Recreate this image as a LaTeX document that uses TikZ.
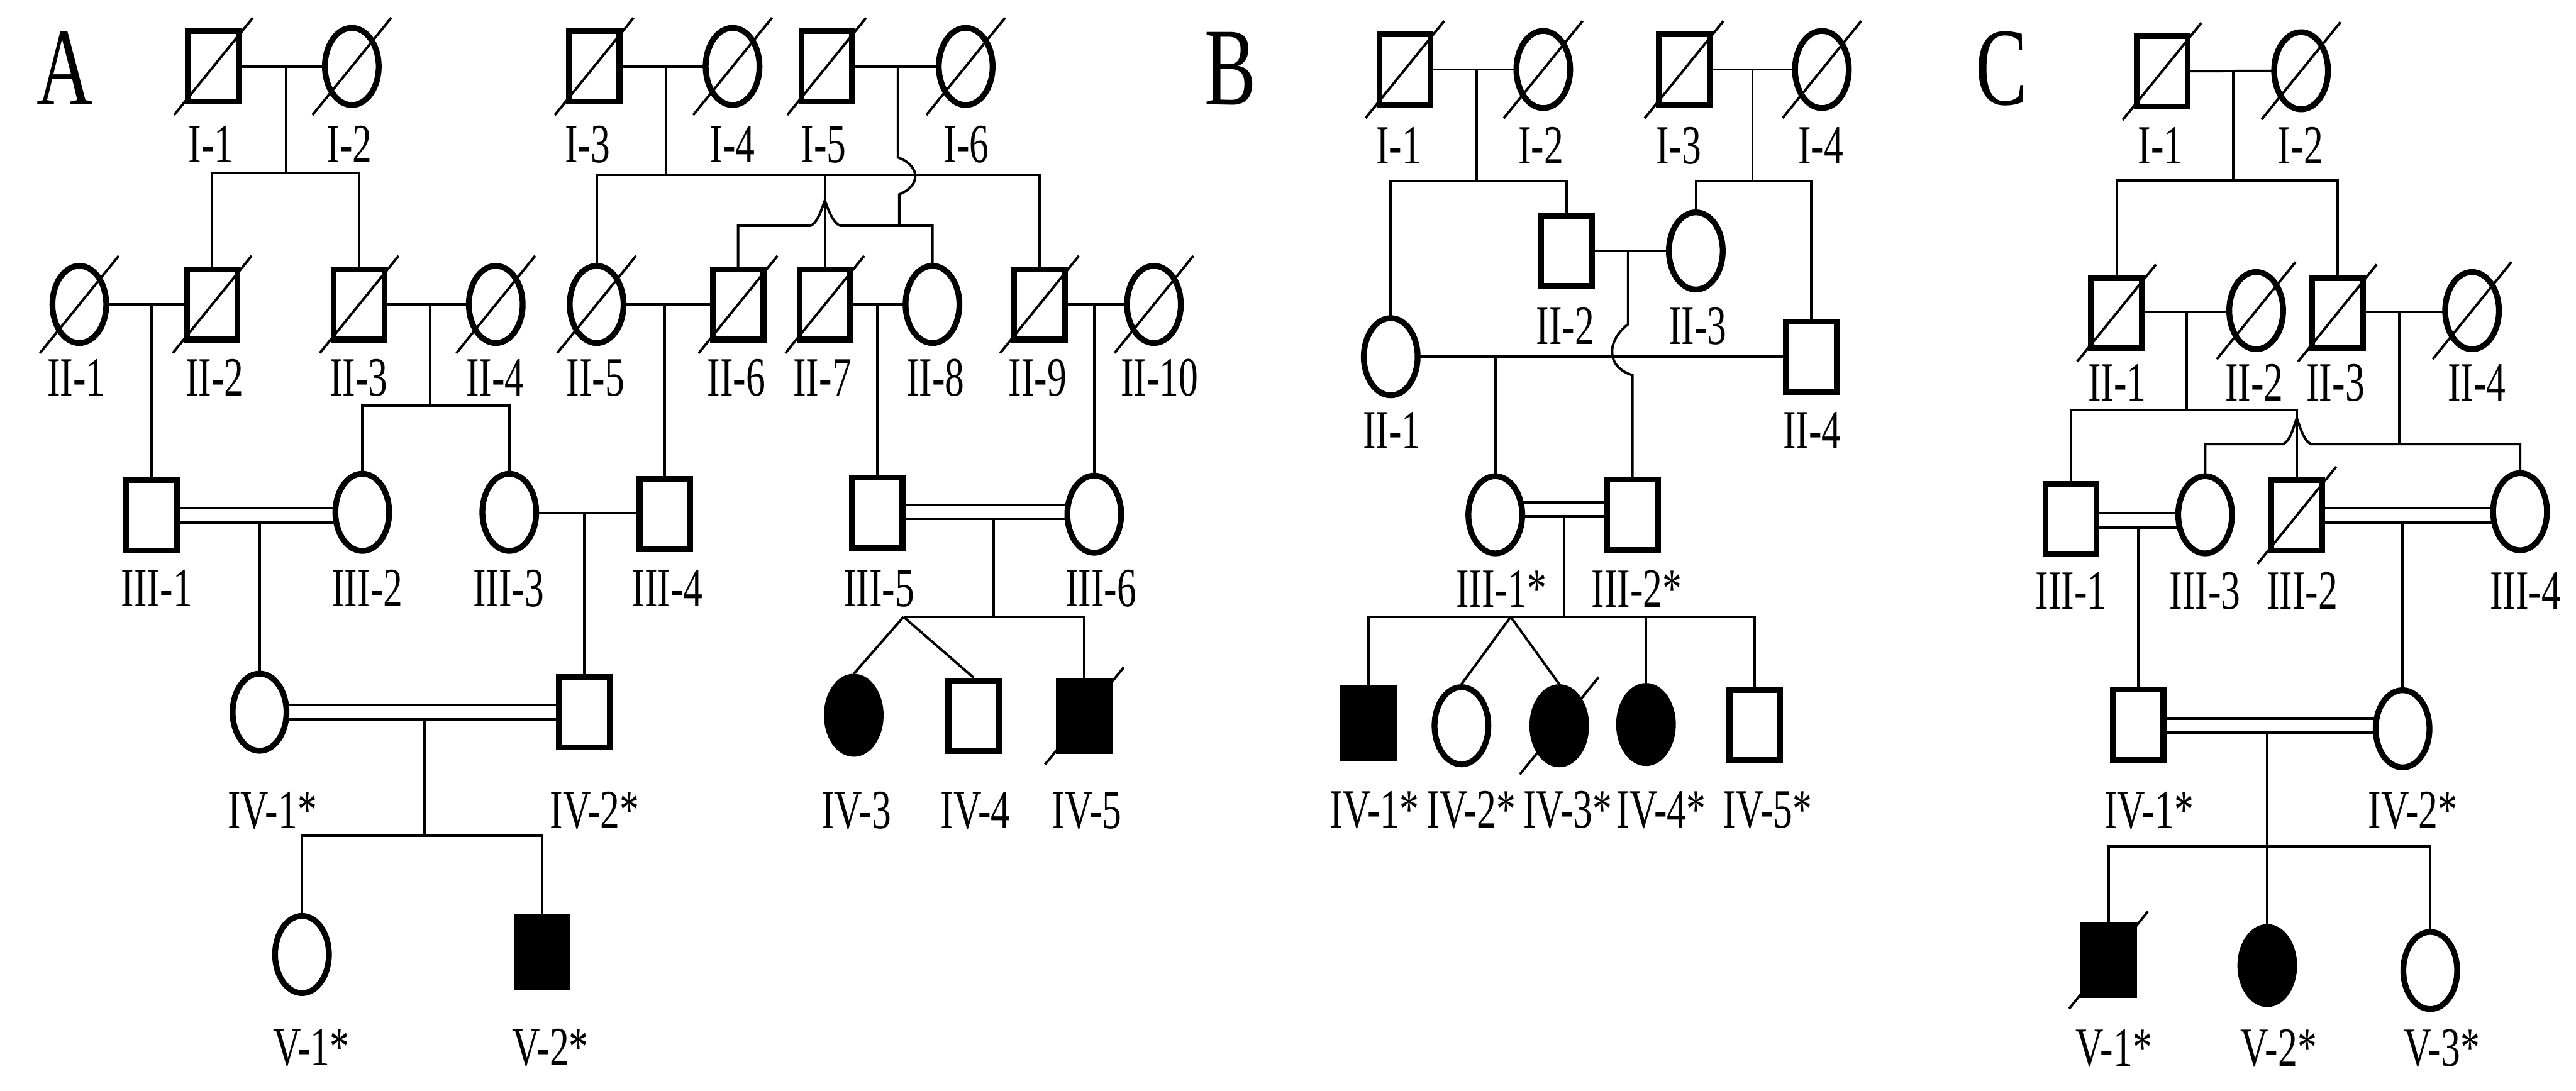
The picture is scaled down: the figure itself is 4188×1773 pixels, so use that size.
\documentclass[tikz,border=0pt]{standalone}
\usepackage{fontspec}
\setmainfont{Liberation Serif}[FakeStretch=0.7]
\usetikzlibrary{shapes.geometric,calc}
\pgfdeclarelayer{bg}
\pgfsetlayers{bg,main}
\tikzset{
  ml/.style={rectangle,draw,fill=white,minimum width=8.25pt,minimum height=11.45pt,inner sep=0pt},
  fm/.style={ellipse,draw,fill=white,minimum width=8.75pt,minimum height=12.55pt,inner sep=0pt},
  aff/.style={fill=black},
  lab/.style={anchor=base,inner sep=0pt,font=\fontsize{9pt}{9pt}\selectfont},
  panel/.style={anchor=base,inner sep=0pt,font=\fontsize{18pt}{18pt}\selectfont}
}
\newcommand\pdead[1]{\draw ($(#1)+(-64,79)$) -- ($(#1)+(64,-79)$);}
\begin{document}
\begin{tikzpicture}[x=0.1pt,y=-0.1pt,line width=0.95pt]
\useasboundingbox (0,0) rectangle (4188,1773);
% ---------------- Panel A nodes
\node[ml] (A11) at (347,108) {};
\node[fm] (A12) at (572,108) {};
\node[ml] (A13) at (966,108) {};
\node[fm] (A14) at (1191,108) {};
\node[ml] (A15) at (1344,108) {};
\node[fm] (A16) at (1570,108) {};
\node[fm] (A21) at (129,495) {};
\node[ml] (A22) at (345,495) {};
\node[ml] (A23) at (584,495) {};
\node[fm] (A24) at (806,495) {};
\node[fm] (A25) at (970,495) {};
\node[ml] (A26) at (1200,495) {};
\node[ml] (A27) at (1341,495) {};
\node[fm] (A28) at (1516,495) {};
\node[ml] (A29) at (1690,495) {};
\node[fm] (A210) at (1876,495) {};
\node[ml] (A31) at (246,838) {};
\node[fm] (A32) at (589,833) {};
\node[fm] (A33) at (828,833) {};
\node[ml] (A34) at (1081,836) {};
\node[ml] (A35) at (1426,834) {};
\node[fm] (A36) at (1779,836) {};
\node[fm] (A41) at (422,1158) {};
\node[ml] (A42) at (950,1158) {};
\node[fm,aff] (A43) at (1388,1163) {};
\node[ml] (A44) at (1583,1164) {};
\node[ml,aff] (A45) at (1763,1164) {};
\node[fm] (A51) at (491,1552) {};
\node[ml,aff] (A52) at (881,1548) {};
% ---------------- Panel B nodes
\node[ml] (B11) at (2284,113) {};
\node[fm] (B12) at (2509,113) {};
\node[ml] (B13) at (2738,113) {};
\node[fm] (B14) at (2962,113) {};
\node[ml] (B22) at (2547,408) {};
\node[fm] (B23) at (2757,408) {};
\node[fm] (B21) at (2261,580) {};
\node[ml] (B24) at (2945,580) {};
\node[fm] (B31) at (2431,837) {};
\node[ml] (B32) at (2654,837) {};
\node[ml,aff] (B41) at (2225,1175) {};
\node[fm] (B42) at (2376,1180) {};
\node[fm,aff] (B43) at (2535,1180) {};
\node[fm,aff] (B44) at (2676,1178) {};
\node[ml] (B45) at (2853,1179) {};
% ---------------- Panel C nodes
\node[ml] (C11) at (3515,116) {};
\node[fm] (C12) at (3741,115) {};
\node[ml] (C21) at (3441,509) {};
\node[fm] (C22) at (3668,505) {};
\node[ml] (C23) at (3800,509) {};
\node[fm] (C24) at (4019,505) {};
\node[ml] (C31) at (3367,844) {};
\node[fm] (C33) at (3585,837) {};
\node[ml] (C32) at (3734,838) {};
\node[fm] (C34) at (4097,832) {};
\node[ml] (C41) at (3476,1178) {};
\node[fm] (C42) at (3906,1185) {};
\node[ml,aff] (C51) at (3428,1561) {};
\node[fm,aff] (C52) at (3686,1570) {};
\node[fm] (C53) at (3951,1578) {};
% ---------------- connectors
\begin{pgfonlayer}{bg}
% A
\coordinate (Am1) at (465,108); \coordinate (As1) at (465,281);
\draw (A11.center) -- (A12.center);
\draw (Am1) -- (As1);
\draw (A22.center) |- (As1) -| (A23.center);
\coordinate (Am3) at (1083,108); \coordinate (As3) at (1083,284);
\draw (A13.center) -- (A14.center);
\draw (Am3) -- (As3);
\draw (A25.center) |- (As3) -| (A29.center);
\draw (A27.center) -- (A27 |- As3);
\coordinate (Am5) at (1460,108); \coordinate (Ab1) at (1460,256);
\coordinate (Ab2) at (1462,316); \coordinate (As5) at (1462,367);
\draw (A15.center) -- (A16.center);
\draw (Am5) -- (Ab1) .. controls (1497,270) and (1497,302) .. (Ab2) -- (As5);
\coordinate (Ah1) at (1318,367); \coordinate (Ahp) at (1341,326); \coordinate (Ah2) at (1366,367);
\draw (A26.center) |- (Ah1) .. controls (1330,362) and (1337,336) .. (Ahp)
      .. controls (1345,336) and (1353,362) .. (Ah2) -| (A28.center);
\draw (A21.center) -- (A22.center);
\coordinate (Am21) at (246,495); \draw (Am21) -- (A31);
\draw (A23.center) -- (A24.center);
\coordinate (Am23) at (699,495); \coordinate (As23) at (699,659);
\draw (Am23) -- (As23);
\draw (A32.center) |- (As23) -| (A33.center);
\draw (A25.center) -- (A26.center);
\coordinate (Am25) at (1081,495); \draw (Am25) -- (A34);
\draw (A27.center) -- (A28.center);
\coordinate (Am27) at (1426,495); \draw (Am27) -- (A35);
\draw (A29.center) -- (A210.center);
\coordinate (Am29) at (1779,495); \draw (Am29) -- (A36);
\coordinate (Ad1) at (422,826.5); \coordinate (Ad2) at (422,849.5);
\draw (A31 |- Ad1) -- (A32 |- Ad1);
\draw (A31 |- Ad2) -- (A32 |- Ad2);
\draw (Ad2) -- (A41);
\coordinate (Am33) at (950,834);
\draw (A33 |- Am33) -- (A34 |- Am33);
\draw (Am33) -- (A42);
\coordinate (Ad3) at (1615,821); \coordinate (Ad4) at (1615,844);
\draw (A35 |- Ad3) -- (A36 |- Ad3);
\draw (A35 |- Ad4) -- (A36 |- Ad4);
\coordinate (As35) at (1615,1003); \coordinate (At) at (1469,1003);
\draw (Ad4) -- (As35);
\draw (At) -| (A45.center);
\draw (At) -- (A43.north);
\draw (At) -- (A44.north);
\coordinate (Ad5) at (690,1146.5); \coordinate (Ad6) at (690,1169.5);
\draw (A41 |- Ad5) -- (A42 |- Ad5);
\draw (A41 |- Ad6) -- (A42 |- Ad6);
\coordinate (As41) at (690,1359);
\draw (Ad6) -- (As41);
\draw (A51.center) |- (As41) -| (A52.center);
% B
\draw (B11.center) -- (B12.center);
\coordinate (Bm1) at (2401,113); \coordinate (Bs1) at (2401,294);
\draw (Bm1) -- (Bs1);
\draw (B21.center) |- (Bs1) -| (B22.center);
\draw (B13.center) -- (B14.center);
\coordinate (Bm3) at (2849,113); \coordinate (Bs3) at (2849,294);
\draw (Bm3) -- (Bs3);
\draw (B23.center) |- (Bs3) -| (B24.center);
\draw (B22.center) -- (B23.center);
\coordinate (Bm22) at (2647,408); \coordinate (Bb1) at (2647,527); \coordinate (Bb2) at (2654,610);
\draw (Bm22) -- (Bb1) .. controls (2611,555) and (2611,597) .. (Bb2) -- (B32);
\draw (B21.center) -- (B24.center);
\coordinate (Bm21) at (2431,580); \draw (Bm21) -- (B31);
\coordinate (Bd1) at (2543,816.5); \coordinate (Bd2) at (2543,839.5);
\draw (B31 |- Bd1) -- (B32 |- Bd1);
\draw (B31 |- Bd2) -- (B32 |- Bd2);
\coordinate (Bs31) at (2543,1003); \coordinate (Bt) at (2456,1003);
\draw (Bd2) -- (Bs31);
\draw (B41.center) |- (Bs31) -| (B45.center);
\draw (Bt) -- (B42.north);
\draw (Bt) -- (B43.north);
\draw (B44.center) -- (B44 |- Bs31);
% C
\draw (C11.center) -- (C12.center);
\coordinate (Cm1) at (3631,115); \coordinate (Cs1) at (3631,293);
\draw (Cm1) -- (Cs1);
\draw (C21.center) |- (Cs1) -| (C23.center);
\coordinate (Cm21) at (3555,507); \coordinate (Cs21) at (3555,667);
\draw (C21 |- Cm21) -- (C22 |- Cm21);
\draw (Cm21) -- (Cs21);
\draw (C31.center) |- (Cs21) -| (C32.center);
\coordinate (Cm23) at (3901,507); \coordinate (Cs23) at (3901,722);
\draw (C23 |- Cm23) -- (C24 |- Cm23);
\draw (Cm23) -- (Cs23);
\coordinate (Ch1) at (3712,722); \coordinate (Chp) at (3734,680); \coordinate (Ch2) at (3757,722);
\draw (C33.center) |- (Ch1) .. controls (3724,717) and (3730,690) .. (Chp)
      .. controls (3738,690) and (3745,717) .. (Ch2) -| (C34.center);
\coordinate (Cd1) at (3476,834.5); \coordinate (Cd2) at (3476,857.5);
\draw (C31 |- Cd1) -- (C33 |- Cd1);
\draw (C31 |- Cd2) -- (C33 |- Cd2);
\draw (Cd2) -- (C41);
\coordinate (Cd3) at (3906,826.5); \coordinate (Cd4) at (3906,849.5);
\draw (C32 |- Cd3) -- (C34 |- Cd3);
\draw (C32 |- Cd4) -- (C34 |- Cd4);
\draw (Cd4) -- (C42);
\coordinate (Cd5) at (3686,1168.5); \coordinate (Cd6) at (3686,1191.5);
\draw (C41 |- Cd5) -- (C42 |- Cd5);
\draw (C41 |- Cd6) -- (C42 |- Cd6);
\coordinate (Cs41) at (3686,1376);
\draw (Cd6) -- (Cs41);
\draw (C51.center) |- (Cs41) -| (C53.center);
\draw (Cs41) -- (C52);
\end{pgfonlayer}
% ---------------- deceased slashes
\pdead{A11}\pdead{A12}\pdead{A13}\pdead{A14}\pdead{A15}\pdead{A16}
\pdead{A21}\pdead{A22}\pdead{A23}\pdead{A24}\pdead{A25}\pdead{A26}\pdead{A27}
\pdead{A29}\pdead{A210}\pdead{A45}
\pdead{B11}\pdead{B12}\pdead{B13}\pdead{B14}\pdead{B43}
\pdead{C11}\pdead{C12}\pdead{C21}\pdead{C22}\pdead{C23}\pdead{C24}\pdead{C32}\pdead{C51}
% ---------------- labels
\node[panel] (LA) at (105,170) {A};
\node[panel] (LB) at (2001,170) {B};
\node[panel] (LC) at (3254,170) {C};
% A
\node[lab] (lA11) at (343,264) {I-1};
\node[lab] (lA12) at (568,264) {I-2};
\node[lab] (lA13) at (955,264) {I-3};
\node[lab] (lA14) at (1191,264) {I-4};
\node[lab] (lA15) at (1339,264) {I-5};
\node[lab] (lA16) at (1571,264) {I-6};
\node[lab] (lA21) at (124,644) {II-1};
\node[lab] (lA22) at (349,644) {II-2};
\node[lab] (lA23) at (583,644) {II-3};
\node[lab] (lA24) at (805,644) {II-4};
\node[lab] (lA25) at (968,644) {II-5};
\node[lab] (lA26) at (1197,644) {II-6};
\node[lab] (lA27) at (1337,644) {II-7};
\node[lab] (lA28) at (1521,644) {II-8};
\node[lab] (lA29) at (1687,644) {II-9};
\node[lab] (lA210) at (1885,644) {II-10};
\node[lab] (lA31) at (255,986) {III-1};
\node[lab] (lA32) at (597,986) {III-2};
\node[lab] (lA33) at (827,986) {III-3};
\node[lab] (lA34) at (1085,986) {III-4};
\node[lab] (lA35) at (1429,986) {III-5};
\node[lab] (lA36) at (1790,986) {III-6};
\node[lab] (lA41) at (427,1347) {IV-1\rlap{*}};
\node[lab] (lA42) at (951,1347) {IV-2\rlap{*}};
\node[lab] (lA43) at (1392,1347) {IV-3};
\node[lab] (lA44) at (1586,1347) {IV-4};
\node[lab] (lA45) at (1767,1347) {IV-5};
\node[lab] (lA51) at (490,1732) {V-1\rlap{*}};
\node[lab] (lA52) at (879,1732) {V-2\rlap{*}};
% B
\node[lab] (lB11) at (2274,266) {I-1};
\node[lab] (lB12) at (2505,266) {I-2};
\node[lab] (lB13) at (2729,266) {I-3};
\node[lab] (lB14) at (2960,266) {I-4};
\node[lab] (lB22) at (2545,560) {II-2};
\node[lab] (lB23) at (2760,560) {II-3};
\node[lab] (lB21) at (2263,729) {II-1};
\node[lab] (lB24) at (2946,729) {II-4};
\node[lab] (lB31) at (2425,987) {III-1\rlap{*}};
\node[lab] (lB32) at (2645,987) {III-2\rlap{*}};
\node[lab] (lB41) at (2219,1346) {IV-1\rlap{*}};
\node[lab] (lB42) at (2376,1346) {IV-2\rlap{*}};
\node[lab] (lB43) at (2533,1346) {IV-3\rlap{*}};
\node[lab] (lB44) at (2685,1346) {IV-4\rlap{*}};
\node[lab] (lB45) at (2858,1346) {IV-5\rlap{*}};
% C
\node[lab] (lC11) at (3513,266) {I-1};
\node[lab] (lC12) at (3740,266) {I-2};
\node[lab] (lC21) at (3442,652) {II-1};
\node[lab] (lC22) at (3665,652) {II-2};
\node[lab] (lC23) at (3797,652) {II-3};
\node[lab] (lC24) at (4027,652) {II-4};
\node[lab] (lC31) at (3367,990) {III-1};
\node[lab] (lC33) at (3585,990) {III-3};
\node[lab] (lC32) at (3743,990) {III-2};
\node[lab] (lC34) at (4106,990) {III-4};
\node[lab] (lC41) at (3478,1347) {IV-1\rlap{*}};
\node[lab] (lC42) at (3907,1347) {IV-2\rlap{*}};
\node[lab] (lC51) at (3421,1734) {V-1\rlap{*}};
\node[lab] (lC52) at (3689,1734) {V-2\rlap{*}};
\node[lab] (lC53) at (3954,1734) {V-3\rlap{*}};
\end{tikzpicture}
\end{document}
